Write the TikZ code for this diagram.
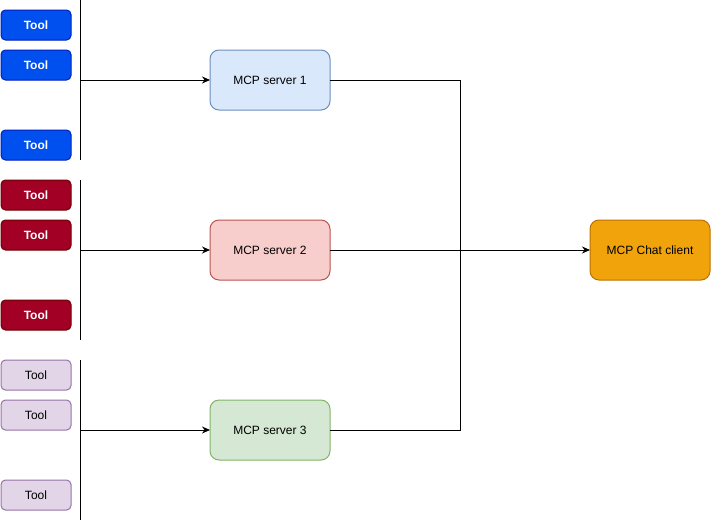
\documentclass[tikz,border=0pt]{standalone}
\usepackage{fontspec}
\setmainfont{Liberation Sans}
\usetikzlibrary{
	arrows.meta,
	positioning
}
\definecolor{toolblue}{HTML}{0050EF}
\definecolor{toolblueline}{HTML}{001DBC}
\definecolor{toolred}{HTML}{A20025}
\definecolor{toolredline}{HTML}{6F0000}
\definecolor{toolpurple}{HTML}{E1D5E7}
\definecolor{toolpurpleline}{HTML}{9673A6}
\definecolor{srvblue}{HTML}{DAE8FC}
\definecolor{srvblueline}{HTML}{6C8EBF}
\definecolor{srvred}{HTML}{F8CECC}
\definecolor{srvredline}{HTML}{B85450}
\definecolor{srvgreen}{HTML}{D5E8D4}
\definecolor{srvgreenline}{HTML}{82B366}
\definecolor{clientfill}{HTML}{F0A30A}
\definecolor{clientline}{HTML}{BD7000}

\begin{document}
\begin{tikzpicture}[
			x=1pt, y=-1pt,
			node distance = 10pt,
			line width=1pt,
			ToolStyle/.style={draw, rounded corners=4.5pt, minimum width=70pt,
				minimum height=30pt, inner sep=0pt, outer sep=0pt,
				font=\fontsize{12}{14}\selectfont},
			ServerStyle/.style={draw, rounded corners=9pt, minimum width=120pt,
				minimum height=60pt, inner sep=0pt, outer sep=0pt,
				font=\fontsize{12}{14}\selectfont},
			Link/.style={-{Stealth[length=8pt, width=7pt]}}]
			\useasboundingbox (0,0) rectangle (711,522);
			% tools of server 1
			\node [ToolStyle, fill=toolblue, draw=toolblueline, text=white, font=\fontsize{12}{14}\selectfont\bfseries] (t11) at (36,25) {Tool};
			\node [ToolStyle, fill=toolblue, draw=toolblueline, text=white, font=\fontsize{12}{14}\selectfont\bfseries, below=of t11] (t12) {Tool};
			\node [ToolStyle, fill=toolblue, draw=toolblueline, text=white, font=\fontsize{12}{14}\selectfont\bfseries, below=50pt of t12] (t13) {Tool};
			% tools of server 2
			\node [ToolStyle, fill=toolred, draw=toolredline, text=white, font=\fontsize{12}{14}\selectfont\bfseries, below=20pt of t13] (t21) {Tool};
			\node [ToolStyle, fill=toolred, draw=toolredline, text=white, font=\fontsize{12}{14}\selectfont\bfseries, below=of t21] (t22) {Tool};
			\node [ToolStyle, fill=toolred, draw=toolredline, text=white, font=\fontsize{12}{14}\selectfont\bfseries, below=50pt of t22] (t23) {Tool};
			% tools of server 3
			\node [ToolStyle, fill=toolpurple, draw=toolpurpleline, below=30pt of t23] (t31) {Tool};
			\node [ToolStyle, fill=toolpurple, draw=toolpurpleline, below=of t31] (t32) {Tool};
			\node [ToolStyle, fill=toolpurple, draw=toolpurpleline, below=50pt of t32] (t33) {Tool};
			% servers and client
			\node [ServerStyle, fill=srvblue, draw=srvblueline] (s1) at (270,80) {MCP server 1};
			\node [ServerStyle, fill=srvred, draw=srvredline] (s2) at (270,250) {MCP server 2};
			\node [ServerStyle, fill=srvgreen, draw=srvgreenline] (s3) at (270,430) {MCP server 3};
			\node [ServerStyle, fill=clientfill, draw=clientline] (client) at (650,250) {MCP Chat client};
			% bars
			\coordinate (b1top) at (80,0);
			\coordinate (b1bot) at (80,160);
			\coordinate (b2top) at (80,180);
			\coordinate (b2bot) at (80,340);
			\coordinate (b3top) at (80,360);
			\coordinate (b3bot) at (80,520);
			\coordinate (join) at (460,250);
			\draw (b1top) -- (b1bot);
			\draw (b2top) -- (b2bot);
			\draw (b3top) -- (b3bot);
			\draw [Link] (b1top |- s1) -- (s1.west);
			\draw [Link] (b2top |- s2) -- (s2.west);
			\draw [Link] (b3top |- s3) -- (s3.west);
			\draw (s1.east) -| (join);
			\draw (s3.east) -| (join);
			\draw [Link] (s2.east) -- (client.west);
		\end{tikzpicture}
\end{document}
